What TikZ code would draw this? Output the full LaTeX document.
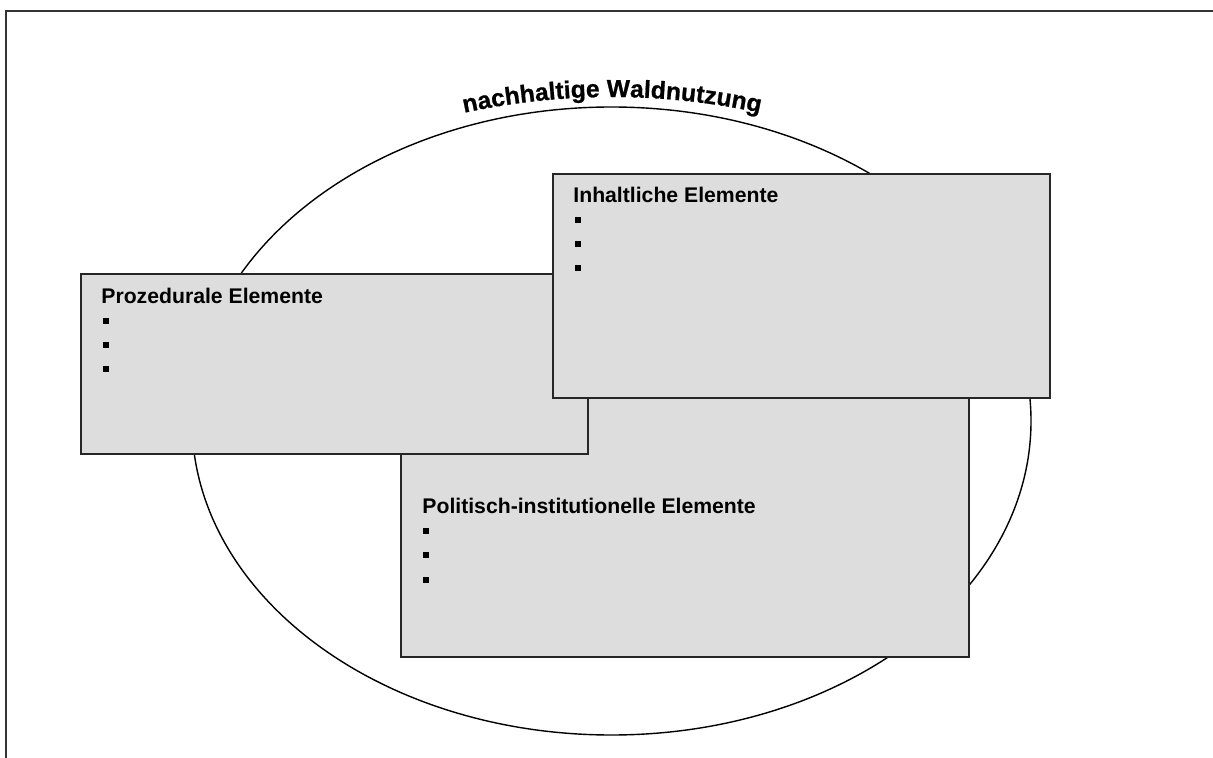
\documentclass[tikz,border=0pt]{standalone}
\usepackage{fontspec}
\setmainfont{Liberation Sans}
\newfontfamily\titlefam{Liberation Sans}[BoldFeatures={FakeBold=0.8}]
\usetikzlibrary{decorations.text}
\definecolor{panelgray}{RGB}{221,221,221}
\newcommand\titlefont{\titlefam\fontsize{12.3}{14}\selectfont\bfseries}
\begin{document}
\begin{tikzpicture}[x=0.5pt,y=-0.5pt,
  panel/.style={draw=black!85,line width=0.9pt,fill=panelgray,anchor=north west,inner sep=0pt},
  heading/.style={anchor=base west,inner sep=0pt,font=\fontsize{10.6}{12}\selectfont\bfseries},
  bulletbox/.style={fill=black,inner sep=0pt,minimum size=3pt},
  frameline/.style={line width=1pt,black!80},
]
\useasboundingbox (0,0) rectangle (1213,758);

% page frame (top and left edges)
\coordinate (ftop) at (1213,11);
\coordinate (fcorner) at (6,11);
\coordinate (fbottom) at (6,760);
\draw[frameline] (ftop) -- (fcorner) -- (fbottom);

% outer ellipse
\coordinate (ec) at (611.5,421);
\draw[line width=0.7pt] (ec) ellipse [x radius=209.75pt, y radius=157pt];

% curved title above the ellipse
\coordinate (arcc) at (612,797);
\path[decorate, decoration={text along path,
      text={|\titlefont|nachhaltige Waldnutzung}, text align=center}]
  (arcc) ++(103.5:350pt) arc[start angle=103.5, end angle=76.5, radius=350pt];

% political-institutional panel
\node[panel,minimum width=284pt,minimum height=133pt] (pol) at (400,390) {};
\node[heading] (polh) at (422,513) {Politisch-institutionelle Elemente};
\foreach \yy [count=\i] in {531,555,580} \node[bulletbox] (polb\i) at (425.5,\yy) {};

% procedural panel
\node[panel,minimum width=253.5pt,minimum height=90pt] (proz) at (80,273) {};
\node[heading] (prozh) at (101,303.5) {Prozedurale Elemente};
\foreach \yy [count=\i] in {321,345,369} \node[bulletbox] (prozb\i) at (105.7,\yy) {};

% content panel
\node[panel,minimum width=248.5pt,minimum height=112pt] (inh) at (552,173) {};
\node[heading] (inhh) at (573,203) {Inhaltliche Elemente};
\foreach \yy [count=\i] in {220,244,268} \node[bulletbox] (inhb\i) at (578,\yy) {};
\end{tikzpicture}
\end{document}
